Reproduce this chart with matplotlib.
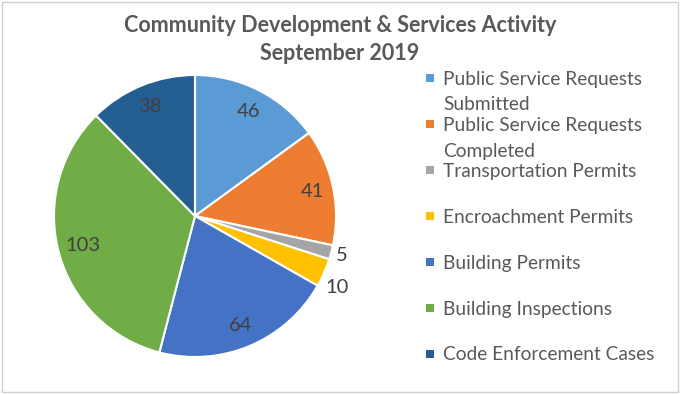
import matplotlib
matplotlib.use("Agg")
import matplotlib.pyplot as plt
from matplotlib.patches import Rectangle
import numpy as np

title_lines = ["Community Development & Services Activity", "September 2019"]
categories = ["Public Service Requests\nSubmitted", "Public Service Requests\nCompleted",
              "Transportation Permits", "Encroachment Permits", "Building Permits",
              "Building Inspections", "Code Enforcement Cases"]
values = [46, 41, 5, 10, 64, 103, 38]
colors = ["#5B9BD5", "#ED7D31", "#A5A5A5", "#FFC000", "#4472C4", "#70AD47", "#255E91"]
label_dist = [0.83, 0.85, 1.08, 1.13, 0.84, 0.82, 0.84]
label_turn = [0, 0, 0, -3, 0, 0, 0]  # degrees, label placement nudge

W, H = 683, 394
fig = plt.figure(figsize=(W / 100, H / 100), dpi=100)
fig.patch.set_facecolor("white")
FONT = "Lato"

# border
fig.add_artist(Rectangle((1.5 / W, 2.5 / H), (678 - 1.5) / W, (H - 4) / H, transform=fig.transFigure,
                         fill=False, edgecolor="#D0D0D0", linewidth=1.0))

cx, cy, R = 195, 216, 141
ax = fig.add_axes([(cx - R) / W, (H - cy - R) / H, 2 * R / W, 2 * R / H])
wedges, _ = ax.pie(values, colors=colors, startangle=90, counterclock=False,
                   wedgeprops=dict(edgecolor="white", linewidth=1.5))
ax.set_xlim(-1, 1)
ax.set_ylim(-1, 1)
ax.set_aspect("equal")
ax.axis("off")

for w, v, d, t in zip(wedges, values, label_dist, label_turn):
    ang = np.deg2rad((w.theta1 + w.theta2) / 2 + t)
    ax.text(d * np.cos(ang), d * np.sin(ang), str(v), ha="center", va="center",
            fontsize=14.5, color="#404040", family=FONT)

# title
fig.text(340 / W, 1 - 26 / H, title_lines[0], ha="center", va="center", fontsize=15.5,
         fontweight="bold", color="#595959", family=FONT)
fig.text(340 / W, 1 - 54 / H, title_lines[1], ha="center", va="center", fontsize=15.5,
         fontweight="bold", color="#595959", family=FONT)

# legend
y0, step, lstep = 79, 46, 26
for i, (lab, c) in enumerate(zip(categories, colors)):
    y = y0 + i * step
    fig.add_artist(Rectangle((426 / W, 1 - (y + 3) / H), 8 / W, 8 / H, transform=fig.transFigure,
                             facecolor=c, edgecolor="none"))
    for k, line in enumerate(lab.split("\n")):
        fig.text(443 / W, 1 - (y + k * lstep) / H, line, ha="left", va="center",
                 fontsize=13.8, color="#595959", family=FONT)

fig.savefig("out.png", dpi=100)
